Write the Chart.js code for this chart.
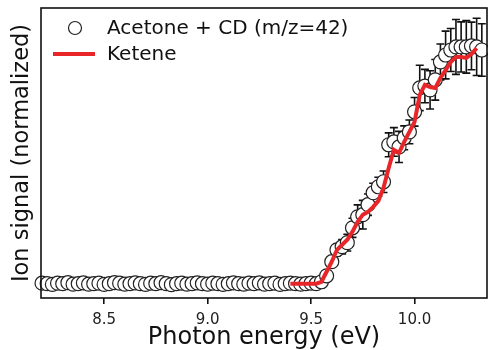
<!DOCTYPE html>
<html>
<head>
<meta charset="utf-8">
<script src="https://cdn.jsdelivr.net/npm/chart.js@4/dist/chart.umd.min.js"></script>
<style>
  body { margin: 0; background: #fff; }
  canvas { display: block; }
</style>
</head>
<body>
<canvas id="myChart" width="488" height="350"></canvas>
<script>
// photon energy (eV) of each measured point
var energy = [
  8.200, 8.225, 8.250, 8.275, 8.300, 8.325, 8.350, 8.375, 8.400, 8.425,
  8.450, 8.475, 8.500, 8.525, 8.550, 8.575, 8.600, 8.625, 8.650, 8.675,
  8.700, 8.725, 8.750, 8.775, 8.800, 8.825, 8.850, 8.875, 8.900, 8.925,
  8.950, 8.975, 9.000, 9.025, 9.050, 9.075, 9.100, 9.125, 9.150, 9.175,
  9.200, 9.225, 9.250, 9.275, 9.300, 9.325, 9.350, 9.375, 9.400, 9.425,
  9.450, 9.475, 9.500, 9.525, 9.550, 9.575, 9.600, 9.625, 9.650, 9.675,
  9.700, 9.725, 9.750, 9.775, 9.800, 9.825, 9.850, 9.875, 9.900, 9.925,
  9.950, 9.975, 10.000, 10.025, 10.050, 10.075, 10.100, 10.125, 10.150, 10.175,
  10.200, 10.225, 10.250, 10.275, 10.300, 10.325
];
// Acetone + CD (m/z=42), normalized ion signal
var signal = [
  0.002, 0.000, -0.003, 0.002, 0.000, 0.004, -0.002, 0.000, 0.003, -0.002,
  0.000, 0.002, -0.003, 0.000, 0.004, 0.002, -0.002, 0.000, 0.003, 0.000,
  -0.003, 0.002, 0.000, 0.004, 0.000, -0.004, 0.000, 0.002, -0.002, 0.000,
  0.003, 0.000, -0.002, 0.002, 0.000, -0.003, 0.000, 0.003, 0.000, -0.002,
  0.002, 0.000, 0.003, -0.002, 0.000, 0.002, -0.003, 0.000, 0.002, 0.000,
  -0.002, 0.000, 0.002, 0.000, 0.008, 0.033, 0.092, 0.142, 0.155, 0.172,
  0.234, 0.280, 0.289, 0.331, 0.381, 0.406, 0.427, 0.582, 0.594, 0.573,
  0.611, 0.636, 0.720, 0.820, 0.828, 0.812, 0.854, 0.929, 0.958, 0.979,
  0.992, 0.992, 0.992, 0.996, 0.992, 0.979
];
// error bar half widths
var signalErr = [
  0.012, 0.012, 0.012, 0.012, 0.012, 0.012, 0.012, 0.012, 0.012, 0.012,
  0.012, 0.012, 0.012, 0.012, 0.012, 0.012, 0.012, 0.012, 0.012, 0.012,
  0.012, 0.012, 0.012, 0.012, 0.012, 0.012, 0.012, 0.012, 0.012, 0.012,
  0.012, 0.012, 0.012, 0.012, 0.012, 0.012, 0.012, 0.012, 0.012, 0.012,
  0.012, 0.012, 0.012, 0.012, 0.012, 0.012, 0.012, 0.012, 0.012, 0.012,
  0.012, 0.012, 0.012, 0.012, 0.015, 0.020, 0.020, 0.025, 0.030, 0.035,
  0.040, 0.050, 0.060, 0.045, 0.040, 0.040, 0.045, 0.050, 0.060, 0.065,
  0.050, 0.050, 0.060, 0.095, 0.070, 0.080, 0.085, 0.075, 0.100, 0.090,
  0.115, 0.105, 0.110, 0.100, 0.120, 0.110
];
// Ketene reference curve
var keteneEnergy = [
  9.400, 9.450, 9.500, 9.525, 9.550, 9.575, 9.600, 9.625, 9.650, 9.675,
  9.700, 9.725, 9.750, 9.775, 9.800, 9.825, 9.850, 9.875, 9.900, 9.925,
  9.950, 9.975, 10.000, 10.025, 10.050, 10.075, 10.100, 10.125, 10.150, 10.175,
  10.200, 10.225, 10.250, 10.275, 10.300
];
var ketene = [
  0.000, 0.000, 0.000, 0.000, 0.008, 0.050, 0.092, 0.142, 0.163, 0.184,
  0.218, 0.259, 0.289, 0.301, 0.322, 0.347, 0.402, 0.485, 0.561, 0.548,
  0.594, 0.636, 0.678, 0.791, 0.833, 0.824, 0.820, 0.862, 0.895, 0.929,
  0.950, 0.950, 0.946, 0.962, 0.987
];
var tickValues = [8.5, 9.0, 9.5, 10.0];

var pts = [];
for (var i in energy) pts.push({x: energy[i], y: signal[i]});
var ketPts = [];
for (var j in keteneEnergy) ketPts.push({x: keteneEnergy[j], y: ketene[j]});

var FONT = "'DejaVu Sans', sans-serif";

// error bars under the circles
const errorBars = {
    id: 'errorBars',
    beforeDatasetsDraw(chart) {
        const ctx = chart.ctx;
        const xs = chart.scales.x, ys = chart.scales.y;
        ctx.save();
        ctx.strokeStyle = '#111';
        ctx.lineWidth = 1.6;
        for (var i in energy) {
            var px = xs.getPixelForValue(energy[i]);
            var y1 = ys.getPixelForValue(signal[i] + signalErr[i]);
            var y2 = ys.getPixelForValue(signal[i] - signalErr[i]);
            ctx.beginPath();
            ctx.moveTo(px, y1); ctx.lineTo(px, y2);
            ctx.moveTo(px - 4, y1); ctx.lineTo(px + 4, y1);
            ctx.moveTo(px - 4, y2); ctx.lineTo(px + 4, y2);
            ctx.stroke();
        }
        ctx.restore();
    }
};

// frame around plot + legend inside
const frameLegend = {
    id: 'frameLegend',
    afterDraw(chart) {
        const ctx = chart.ctx;
        const a = chart.chartArea;
        ctx.save();
        ctx.strokeStyle = '#111';
        ctx.lineWidth = 1.6;
        ctx.strokeRect(a.left, a.top, a.right - a.left, a.bottom - a.top);

        ctx.font = '20px ' + FONT;
        ctx.textBaseline = 'middle';
        ctx.beginPath();
        ctx.arc(75, 28, 6.5, 0, Math.PI * 2);
        ctx.fillStyle = '#fff';
        ctx.fill();
        ctx.lineWidth = 1.2;
        ctx.strokeStyle = '#222';
        ctx.stroke();
        ctx.fillStyle = '#111';
        ctx.fillText(chart.data.datasets[1].label, 107, 29);

        ctx.beginPath();
        ctx.moveTo(53, 54); ctx.lineTo(95, 54);
        ctx.strokeStyle = '#e8262a';
        ctx.lineWidth = 4;
        ctx.stroke();
        ctx.fillText(chart.data.datasets[0].label, 107, 55);
        ctx.restore();
    }
};

const config = {
    type: 'scatter',
    data: {
        datasets: [{
            label: 'Ketene',
            data: ketPts,
            showLine: true,
            borderColor: '#e8262a',
            borderWidth: 4,
            pointRadius: 0,
            tension: 0,
            clip: false,
            order: 1
        },
        {
            label: 'Acetone + CD (m/z=42)',
            data: pts,
            showLine: false,
            pointRadius: 7,
            pointBorderWidth: 1.2,
            pointBorderColor: '#222',
            pointBackgroundColor: '#fff',
            clip: false,
            order: 2
        }]
    },
    options: {
        responsive: false,
        animation: false,
        events: [],
        layout: { autoPadding: false, padding: { top: 8, right: 1, left: 0, bottom: 0 } },
        plugins: { legend: { display: false }, tooltip: { enabled: false } },
        scales: {
            x: {
                type: 'linear',
                min: 8.195,
                max: 10.35,
                afterBuildTicks: function(s) { s.ticks = tickValues.map(function(v) { return {value: v}; }); },
                afterFit: function(s) { s.height = 52; },
                ticks: {
                    padding: 7,
                    color: '#222',
                    font: { family: FONT, size: 15 },
                    callback: function(v) { return v.toFixed(1); }
                },
                grid: { drawOnChartArea: false, drawTicks: true, tickLength: 6, color: '#111', lineWidth: 1.6 },
                border: { display: false },
                title: {
                    display: true,
                    text: 'Photon energy (eV)',
                    color: '#111',
                    font: { family: FONT, size: 24, lineHeight: 1 },
                    padding: { top: 0, bottom: 0 }
                }
            },
            y: {
                min: -0.06,
                max: 1.155,
                afterFit: function(s) { s.width = 41; },
                ticks: { display: false },
                grid: { display: false },
                border: { display: false },
                title: {
                    display: true,
                    text: 'Ion signal (normalized)',
                    color: '#111',
                    font: { family: FONT, size: 22.5, lineHeight: 1 },
                    padding: { top: 11, bottom: 0 }
                }
            }
        }
    },
    plugins: [errorBars, frameLegend]
};

var myChart = new Chart(document.getElementById('myChart'), config);
</script>
</body>
</html>
